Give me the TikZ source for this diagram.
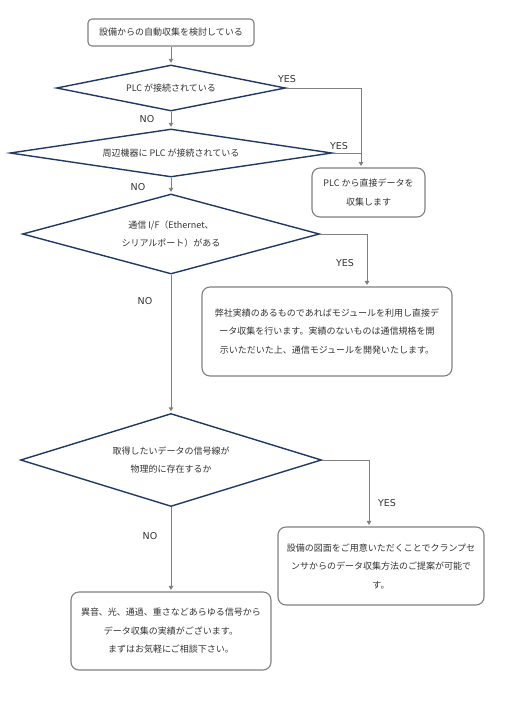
\documentclass[tikz,border=0pt]{standalone}
\usepackage{fontspec}
\setmainfont{Noto Sans CJK JP}
\newfontfamily\labelfont{DejaVu Sans}
\usetikzlibrary{shapes.geometric, arrows.meta, positioning}

\definecolor{decisionblue}{HTML}{1F3864}
\definecolor{boxgray}{HTML}{7F7F7F}
\definecolor{textgray}{HTML}{333333}

\begin{document}
\begin{tikzpicture}[x=1pt, y=-1pt,
every node/.style={text=textgray, font=\fontsize{9}{18.5}\selectfont},
decision/.style={draw=decisionblue, line width=1.4pt, shape=diamond, aspect=4, inner sep=0pt, align=center},
process/.style={draw=boxgray, line width=1.1pt, rounded corners=8pt, inner sep=0pt, align=center},
answer/.style={font=\labelfont\fontsize{9.5}{11}\selectfont},
flow/.style={draw=boxgray, line width=0.9pt, -{Triangle[length=4pt,width=4.5pt]}, shorten >=1.5pt},
link/.style={draw=boxgray, line width=0.9pt}
]
\useasboundingbox (0,0) rectangle (532,716);

% questions
\node[process, rounded corners=4pt, minimum width=166pt, minimum height=27pt] (start) at (171,32.5) {設備からの自動収集を検討している};
\node[decision, minimum width=229pt, minimum height=46pt] (plc) at (171,88) {PLC が接続されている};
\node[decision, minimum width=322pt, minimum height=48pt] (periph) at (171,153) {周辺機器に PLC が接続されている};
\node[decision, minimum width=297pt, minimum height=80pt] (commif) at (171,234) {通信 I/F（Ethernet、\\シリアルポート）がある};
\node[decision, minimum width=301pt, minimum height=93pt] (signal) at (171,460) {取得したいデータの信号線が\\物理的に存在するか};

% answers
\node[process, minimum width=113pt, minimum height=49pt] (direct) at (368.5,192.5) {PLC から直接データを\\収集します};
\node[process, minimum width=250pt, minimum height=89pt] (module) at (327,331.5) {弊社実績のあるものであればモジュールを利用し直接デ\\ータ収集を行います。実績のないものは通信規格を開\\示いただいた上、通信モジュールを開発いたします。};
\node[process, minimum width=206pt, minimum height=78pt] (clamp) at (381,566) {設備の図面をご用意いただくことでクランプセ\\ンサからのデータ収集方法のご提案が可能で\\す。};
\node[process, minimum width=200pt, minimum height=78pt] (consult) at (171,631) {異音、光、通過、重さなどあらゆる信号から\\データ収集の実績がございます。\\まずはお気軽にご相談下さい。};

% corners of the YES lines
\coordinate (yesA) at (361,153);
\coordinate (yesB) at (367,234);
\coordinate (yesC) at (369,460);

\path[flow] (start.south) -- (plc.north);
\path[flow] (plc.south) -- (periph.north);
\path[flow] (periph.south) -- (commif.north);
\path[flow] (commif.south) -- (signal.north);
\path[flow] (signal.south) -- (consult.north);

\path[flow] (plc.east) -| (yesA |- direct.north);
\path[link] (periph.east) -- (yesA);
\path[flow] (commif.east) -| (yesB |- module.north);
\path[flow] (signal.east) -| (yesC |- clamp.north);

% labels
\node[answer] (yes1) at (287,79) {YES};
\node[answer] (no1) at (147,119) {NO};
\node[answer] (yes2) at (339,146) {YES};
\node[answer] (no2) at (138,187) {NO};
\node[answer] (yes3) at (345,263) {YES};
\node[answer] (no3) at (145,301) {NO};
\node[answer] (yes4) at (387,503) {YES};
\node[answer] (no4) at (150,536) {NO};
\end{tikzpicture}
\end{document}
